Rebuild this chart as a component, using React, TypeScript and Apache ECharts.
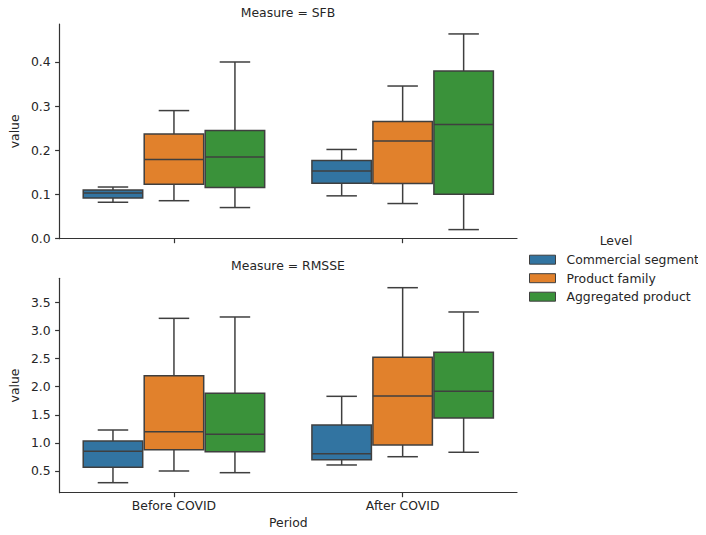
import React, { useEffect, useRef } from "react";
import * as echarts from "echarts";

const periods = ["Before COVID", "After COVID"];
const levels = ["Commercial segment", "Product family", "Aggregated product"];
const levelColors = ["#3274a1", "#e1812c", "#3a923a"];

// [lower whisker, Q1, median, Q3, upper whisker] for each period
const sfbCommercial = [
  [0.0825, 0.092, 0.1036, 0.11, 0.117],
  [0.097, 0.1256, 0.153, 0.177, 0.202],
];
const sfbFamily = [
  [0.086, 0.123, 0.179, 0.237, 0.29],
  [0.0796, 0.125, 0.221, 0.2655, 0.3456],
];
const sfbAggregated = [
  [0.0705, 0.116, 0.185, 0.245, 0.4],
  [0.0206, 0.1007, 0.2587, 0.3796, 0.4635],
];
const rmsseCommercial = [
  [0.292, 0.566, 0.85, 1.034, 1.229],
  [0.607, 0.7, 0.808, 1.318, 1.828],
];
const rmsseFamily = [
  [0.5, 0.879, 1.199, 2.195, 3.215],
  [0.754, 0.962, 1.834, 2.522, 3.76],
];
const rmsseAggregated = [
  [0.47, 0.843, 1.153, 1.882, 3.239],
  [0.833, 1.443, 1.917, 2.611, 3.328],
];

const sfbTicks = [0, 0.1, 0.2, 0.3, 0.4];
const rmsseTicks = [0.5, 1.0, 1.5, 2.0, 2.5, 3.0, 3.5];

const FONT = "DejaVu Sans";
const FS = 12.4;
const TXT = "#262626";
const EDGE = "#3f3f3f";
const AXIS = "#333333";

const makeRender = (hue: number) => (params: any, api: any) => {
  const xi = api.value(0);
  const vals = [1, 2, 3, 4, 5].map((i) => api.value(i));
  const band = api.size([1, 0])[0];
  const slot = (band * 0.8) / 3;
  const center = api.coord([xi, vals[2]])[0] + (hue - 1) * slot;
  const y = vals.map((v: number) => api.coord([xi, v])[1]);
  const half = (slot - 1.5) / 2;
  const cap = slot / 4;
  const ls = { stroke: EDGE, lineWidth: 1.5, fill: null };
  return {
    type: "group",
    children: [
      { type: "line", shape: { x1: center, y1: y[0], x2: center, y2: y[1] }, style: ls },
      { type: "line", shape: { x1: center, y1: y[3], x2: center, y2: y[4] }, style: ls },
      {
        type: "rect",
        shape: { x: center - half, y: y[3], width: 2 * half, height: y[1] - y[3] },
        style: { fill: levelColors[hue], stroke: EDGE, lineWidth: 1.5 },
      },
      { type: "line", shape: { x1: center - half, y1: y[2], x2: center + half, y2: y[2] }, style: ls },
      { type: "line", shape: { x1: center - cap, y1: y[0], x2: center + cap, y2: y[0] }, style: ls },
      { type: "line", shape: { x1: center - cap, y1: y[4], x2: center + cap, y2: y[4] }, style: ls },
    ],
  };
};

const toData = (arr: number[][]) => periods.map((_, i) => [i, ...arr[i]]);

export default function App() {
  const ref = useRef<HTMLDivElement>(null);
  useEffect(() => {
    if (!ref.current) return;
    const chart = echarts.init(ref.current, undefined, { renderer: "svg" });
    const textStyle = { fontFamily: FONT, fontSize: FS, color: TXT };
    const xAxisBase = (idx: number, showLabels: boolean) => ({
      type: "category",
      gridIndex: idx,
      data: periods,
      boundaryGap: true,
      axisLine: { show: true, lineStyle: { color: AXIS, width: 1.2 } },
      axisTick: { show: true, alignWithLabel: true, length: 4.5, lineStyle: { color: AXIS, width: 1.2 } },
      axisLabel: { show: showLabels, margin: 7, ...textStyle },
      splitLine: { show: false },
      name: showLabels ? "Period" : "",
      nameLocation: "middle",
      nameGap: 24,
      nameTextStyle: textStyle,
    });
    const yAxisBase = (idx: number, min: number, max: number, ticks: number[]) => ({
      type: "value",
      gridIndex: idx,
      min,
      max,
      axisLine: { show: true, lineStyle: { color: AXIS, width: 1.2 } },
      axisTick: { show: true, length: 4.5, customValues: ticks, lineStyle: { color: AXIS, width: 1.2 } },
      axisLabel: { margin: 9, customValues: ticks, formatter: (v: number) => v.toFixed(1), ...textStyle },
      splitLine: { show: false },
      name: "value",
      nameLocation: "middle",
      nameGap: 32,
      nameTextStyle: textStyle,
    });
    const sets = [
      [sfbCommercial, sfbFamily, sfbAggregated],
      [rmsseCommercial, rmsseFamily, rmsseAggregated],
    ];
    const series: any[] = [];
    sets.forEach((grp, gi) => {
      grp.forEach((arr, hue) => {
        series.push({
          type: "custom",
          name: levels[hue],
          xAxisIndex: gi,
          yAxisIndex: gi,
          itemStyle: { color: levelColors[hue] },
          encode: { x: 0, y: [1, 2, 3, 4, 5] },
          renderItem: makeRender(hue),
          data: toData(arr),
        });
      });
    });
    chart.setOption({
      animation: false,
      grid: [
        { left: 59, right: 189, top: 24, height: 214.7 },
        { left: 59, right: 189, top: 278.3, height: 214.4 },
      ],
      xAxis: [xAxisBase(0, false), xAxisBase(1, true)],
      yAxis: [
        yAxisBase(0, 0, 0.486, sfbTicks),
        yAxisBase(1, 0.114, 3.927, rmsseTicks),
      ],
      legend: {
        orient: "vertical",
        left: 529,
        top: 252.7,
        padding: 0,
        itemWidth: 26,
        itemHeight: 9,
        itemGap: 4.5,
        icon: "rect",
        selectedMode: false,
        textStyle: { ...textStyle, lineHeight: 14, padding: [0, 0, 0, 6] },
        data: levels.map((l, i) => ({
          name: l,
          itemStyle: { color: levelColors[i], borderColor: EDGE, borderWidth: 1 },
        })),
      },
      graphic: [
        {
          type: "text",
          x: 288,
          y: 12.7,
          style: { text: "Measure = SFB", font: `${FS}px '${FONT}'`, fill: TXT, align: "center", verticalAlign: "middle" },
        },
        {
          type: "text",
          x: 288,
          y: 265.7,
          style: { text: "Measure = RMSSE", font: `${FS}px '${FONT}'`, fill: TXT, align: "center", verticalAlign: "middle" },
        },
        {
          type: "text",
          x: 616,
          y: 240,
          style: { text: "Level", font: `${FS}px '${FONT}'`, fill: TXT, align: "center", verticalAlign: "middle" },
        },
      ],
      series,
    });
    return () => chart.dispose();
  }, []);
  return <div ref={ref} style={{ width: 706, height: 535, margin: -8 }} />;
}
